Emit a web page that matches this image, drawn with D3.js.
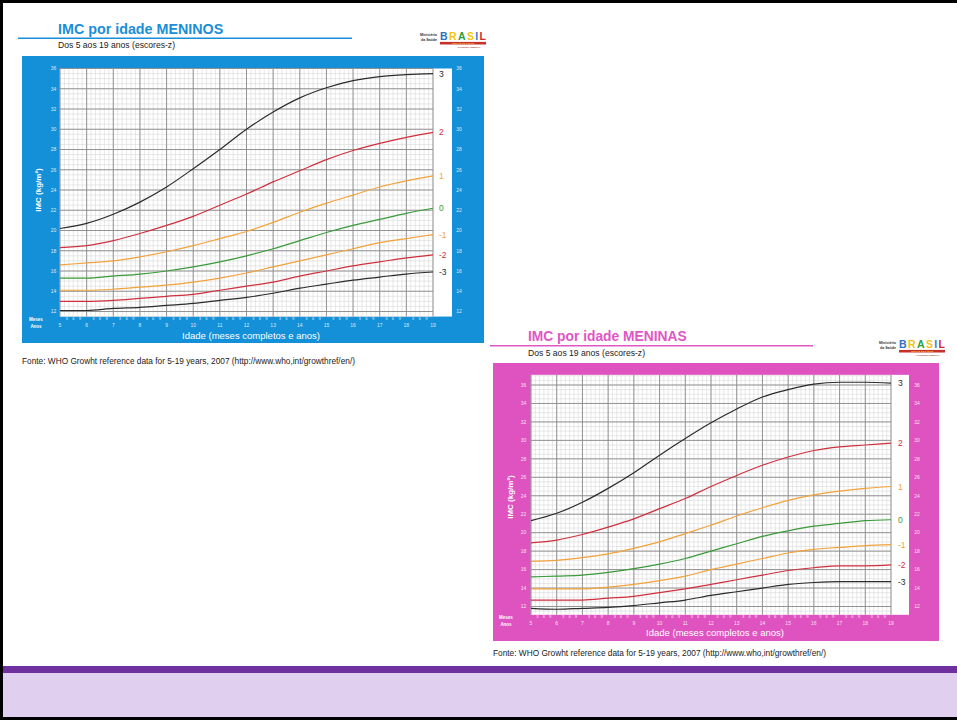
<!DOCTYPE html>
<html><head><meta charset="utf-8">
<script src="https://cdn.jsdelivr.net/npm/d3@7"></script>
<style>body{margin:0;background:#fff}svg{display:block;font-family:Arial,"Liberation Sans",sans-serif}</style>
</head><body><svg id="c" width="957" height="720"></svg>
<script>
// ---- data (WHO BMI-for-age, 5-19 years, z-scores) ----
const ages = [5,6,7,8,9,10,11,12,13,14,15,16,17,18,19];
const zLabels = ["3","2","1","0","-1","-2","-3"];
const boysSD3  = [20.2,20.7,21.6,22.8,24.3,26.1,28.0,30.0,31.7,33.1,34.1,34.8,35.2,35.4,35.5];
const boysSD2  = [18.3,18.5,19.0,19.7,20.5,21.4,22.5,23.6,24.8,25.9,27.0,27.9,28.6,29.2,29.7];
const boysSD1  = [16.6,16.8,17.0,17.4,17.9,18.5,19.2,19.9,20.8,21.8,22.7,23.5,24.3,24.9,25.4];
const boysSD0  = [15.3,15.3,15.5,15.7,16.0,16.4,16.9,17.5,18.2,19.0,19.8,20.5,21.1,21.7,22.2];
const boysSDm1 = [14.1,14.1,14.2,14.4,14.6,14.9,15.3,15.8,16.4,17.0,17.6,18.2,18.8,19.2,19.6];
const boysSDm2 = [13.0,13.0,13.1,13.3,13.5,13.7,14.1,14.5,14.9,15.5,16.0,16.5,16.9,17.3,17.6];
const boysSDm3 = [12.1,12.1,12.3,12.4,12.6,12.8,13.1,13.4,13.8,14.3,14.7,15.1,15.4,15.7,15.9];
const girlsSD3  = [21.3,22.1,23.3,24.8,26.5,28.4,30.2,31.9,33.4,34.7,35.5,36.1,36.3,36.3,36.2];
const girlsSD2  = [18.9,19.2,19.8,20.6,21.5,22.6,23.7,25.0,26.2,27.3,28.2,28.9,29.3,29.5,29.7];
const girlsSD1  = [16.9,17.0,17.3,17.7,18.3,19.0,19.9,20.8,21.8,22.7,23.5,24.1,24.5,24.8,25.0];
const girlsSD0  = [15.2,15.3,15.4,15.7,16.1,16.6,17.2,18.0,18.8,19.6,20.2,20.7,21.0,21.3,21.4];
const girlsSDm1 = [13.9,13.9,13.9,14.1,14.4,14.8,15.3,16.0,16.6,17.2,17.8,18.2,18.4,18.6,18.7];
const girlsSDm2 = [12.7,12.7,12.7,12.9,13.1,13.5,13.9,14.4,14.9,15.4,15.9,16.2,16.4,16.4,16.5];
const girlsSDm3 = [11.8,11.7,11.8,11.9,12.1,12.4,12.7,13.2,13.6,14.0,14.4,14.6,14.7,14.7,14.7];
const yTicks = [12,14,16,18,20,22,24,26,28,30,32,34,36];
const monthTicks = [3,6,9];
const curveColors = ["#2b2b2b","#d0303e","#f2a23a","#3a9a3a","#f2a23a","#d0303e","#2b2b2b"];

const svg = d3.select("#c");

// slide background / border
svg.append("rect").attr("x",0).attr("y",0).attr("width",957).attr("height",720).attr("fill","#fff");
svg.append("rect").attr("x",0).attr("y",666).attr("width",957).attr("height",7).attr("fill","#7030a0");
svg.append("rect").attr("x",0).attr("y",673).attr("width",957).attr("height",44).attr("fill","#e1cff0");
svg.append("rect").attr("x",0).attr("y",717).attr("width",957).attr("height",3).attr("fill","#000");
svg.append("rect").attr("x",0).attr("y",0).attr("width",957).attr("height",3).attr("fill","#000");
svg.append("rect").attr("x",0).attr("y",0).attr("width",3).attr("height",720).attr("fill","#000");

function logo(x, y){
  const g = svg.append("g").attr("transform",`translate(${x},${y})`);
  g.append("text").attr("x",24).attr("y",5).attr("text-anchor","end").attr("font-size",3.6).attr("font-weight","bold").attr("fill","#333").text("Ministério");
  g.append("text").attr("x",24).attr("y",9.5).attr("text-anchor","end").attr("font-size",3.6).attr("font-weight","bold").attr("fill","#333").text("da Saúde");
  const letters = ["B","R","A","S","I","L"];
  const cols = ["#2f6fc4","#f3c316","#2f9e3e","#f3c316","#3b7fd0","#d6262c"];
  const t = g.append("text").attr("x",27).attr("y",8.6).attr("font-size",10.5).attr("font-weight","bold")
    .attr("textLength",46).attr("lengthAdjust","spacing");
  t.selectAll("tspan").data(letters).enter().append("tspan").attr("fill",(d,i)=>cols[i]).text(d=>d);
  g.append("rect").attr("x",27).attr("y",10.9).attr("width",46).attr("height",2.6).attr("fill","#c8302c");
  g.append("text").attr("x",50).attr("y",13.1).attr("text-anchor","middle").attr("font-size",2.3).attr("font-weight","bold").attr("fill","#f6d531").text("UM PAÍS DE TODOS");
  g.append("text").attr("x",56).attr("y",16.6).attr("text-anchor","middle").attr("font-size",2.3).attr("font-weight","bold").attr("fill","#a33").text("GOVERNO FEDERAL");
}

function panel(cfg, series){
  const g = svg.append("g");
  // title + underline + subtitle
  g.append("text").attr("x",cfg.titleX).attr("y",cfg.titleY).attr("font-size",cfg.titleSize).attr("font-weight","bold").attr("fill",cfg.titleColor).text(cfg.title);
  g.append("line").attr("x1",cfg.ulX1).attr("x2",cfg.ulX2).attr("y1",cfg.ulY).attr("y2",cfg.ulY).attr("stroke",cfg.titleColor).attr("stroke-width",1.5);
  g.append("text").attr("x",cfg.titleX).attr("y",cfg.subY).attr("font-size",8.6).attr("fill","#222").text("Dos 5 aos 19 anos (escores-z)");
  logo(cfg.logoX, cfg.logoY);

  // colored box
  const [bx0,by0,bx1,by1] = cfg.box;
  g.append("rect").attr("x",bx0).attr("y",by0).attr("width",bx1-bx0).attr("height",by1-by0).attr("fill",cfg.boxColor);

  const x = d3.scaleLinear().domain([5,19]).range([cfg.x5,cfg.x19]);
  const y = d3.scaleLinear().domain([12,36]).range([cfg.y12,cfg.y36]);

  // white plotting area
  g.append("rect").attr("x",x(5)).attr("y",y(cfg.gTop)).attr("width",cfg.whiteRight-x(5)).attr("height",y(cfg.gBot)-y(cfg.gTop)).attr("fill","#fff");

  // grid
  const minorX = d3.range(0, 14*6+1).map(i=>5+i/6);
  const minorY = d3.range(Math.ceil(cfg.gBot*2), Math.floor(cfg.gTop*2)+1).map(v=>v/2);
  g.selectAll("l.mx").data(minorX).enter().append("line")
    .attr("x1",d=>x(d)).attr("x2",d=>x(d)).attr("y1",y(cfg.gTop)).attr("y2",y(cfg.gBot))
    .attr("stroke","#d9d9d9").attr("stroke-width",0.6);
  g.selectAll("l.my").data(minorY).enter().append("line")
    .attr("x1",x(5)).attr("x2",x(19)).attr("y1",d=>y(d)).attr("y2",d=>y(d))
    .attr("stroke","#d9d9d9").attr("stroke-width",0.6);
  g.selectAll("l.Mx").data(ages).enter().append("line")
    .attr("x1",d=>x(d)).attr("x2",d=>x(d)).attr("y1",y(cfg.gTop)).attr("y2",y(cfg.gBot))
    .attr("stroke","#8a8a8a").attr("stroke-width",0.9);
  g.selectAll("l.My").data(yTicks.filter(v=>v<=cfg.gTop)).enter().append("line")
    .attr("x1",x(5)).attr("x2",x(19)).attr("y1",d=>y(d)).attr("y2",d=>y(d))
    .attr("stroke","#8a8a8a").attr("stroke-width",0.9);

  // y tick labels both sides
  const tickCol = "rgba(255,255,255,0.85)";
  g.selectAll("t.yl").data(yTicks).enter().append("text")
    .attr("x",cfg.leftLabX).attr("y",d=>y(d)+1.8).attr("text-anchor","middle").attr("font-size",5).attr("fill",tickCol).text(d=>d);
  g.selectAll("t.yr").data(yTicks).enter().append("text")
    .attr("x",cfg.rightLabX).attr("y",d=>y(d)+1.8).attr("text-anchor","middle").attr("font-size",5).attr("fill",tickCol).text(d=>d);

  // x labels: months and years
  const monthPos = [];
  ages.slice(0,-1).forEach(a=>monthTicks.forEach(m=>monthPos.push({a,m})));
  g.selectAll("t.m").data(monthPos).enter().append("text")
    .attr("x",d=>x(d.a+d.m/12)).attr("y",cfg.monthY).attr("text-anchor","middle").attr("font-size",4.2).attr("fill",tickCol).text(d=>d.m);
  g.selectAll("t.a").data(ages).enter().append("text")
    .attr("x",d=>x(d)).attr("y",cfg.yearY).attr("text-anchor","middle").attr("font-size",5).attr("fill",tickCol).text(d=>d);
  g.append("text").attr("x",cfg.mesesX).attr("y",cfg.monthY+1).attr("text-anchor","middle").attr("font-size",4.5).attr("font-weight","bold").attr("fill","#fff").text("Meses");
  g.append("text").attr("x",cfg.mesesX).attr("y",cfg.yearY+1).attr("text-anchor","middle").attr("font-size",4.5).attr("font-weight","bold").attr("fill","#fff").text("Anos");
  g.append("text").attr("x",cfg.idadeX).attr("y",cfg.idadeY).attr("text-anchor","middle").attr("font-size",9.5).attr("fill","#fff").text("Idade (meses completos e anos)");
  g.append("text").attr("transform",`translate(${cfg.yTitleX},${cfg.yTitleY}) rotate(-90)`).attr("text-anchor","middle")
    .attr("font-size",8).attr("font-weight","bold").attr("fill","#fff").text("IMC (kg/m²)");

  // curves
  const line = d3.line().x((d,i)=>x(ages[i])).y(d=>y(d)).curve(d3.curveMonotoneX);
  series.forEach((s,k)=>{
    g.append("path").attr("d",line(s)).attr("fill","none").attr("stroke",curveColors[k]).attr("stroke-width",1.2);
    g.append("text").attr("x",cfg.zLabX).attr("y",y(s[s.length-1])+3).attr("font-size",8.5)
      .attr("fill",curveColors[k]).text(zLabels[k]);
  });

  // source
  svg.append("text").attr("x",cfg.fonteX).attr("y",cfg.fonteY).attr("font-size",8.3).attr("fill","#222")
    .text("Fonte: WHO Growht reference data for 5-19 years, 2007 (http://www.who,int/growthref/en/)");
}

panel({
  title:"IMC por idade MENINOS", titleColor:"#1a8ed6", titleX:58, titleY:33.5, titleSize:14.3, subY:48,
  ulX1:18, ulX2:352, ulY:38.3, logoX:413, logoY:31,
  box:[22,56,484,343], boxColor:"#1390d8",
  x5:60, x19:433, y12:311.5, y36:68.5, gTop:36, gBot:11.5, whiteRight:452,
  leftLabX:53.5, rightLabX:459, monthY:320, yearY:327, mesesX:36,
  idadeX:251, idadeY:339, yTitleX:41, yTitleY:190, zLabX:439,
  fonteX:22, fonteY:363.5
},[boysSD3,boysSD2,boysSD1,boysSD0,boysSDm1,boysSDm2,boysSDm3]);

panel({
  title:"IMC por idade MENINAS", titleColor:"#e056c4", titleX:528, titleY:341, titleSize:13.8, subY:355.5,
  ulX1:490, ulX2:813, ulY:345.7, logoX:872, logoY:339,
  box:[493,363,939,641], boxColor:"#df53c0",
  x5:531, x19:891, y12:606.5, y36:385, gTop:37.1, gBot:11.1, whiteRight:909,
  leftLabX:523.5, rightLabX:917, monthY:618, yearY:625, mesesX:506,
  idadeX:715, idadeY:636, yTitleX:513, yTitleY:497, zLabX:898,
  fonteX:493, fonteY:656
},[girlsSD3,girlsSD2,girlsSD1,girlsSD0,girlsSDm1,girlsSDm2,girlsSDm3]);
</script></body></html>
